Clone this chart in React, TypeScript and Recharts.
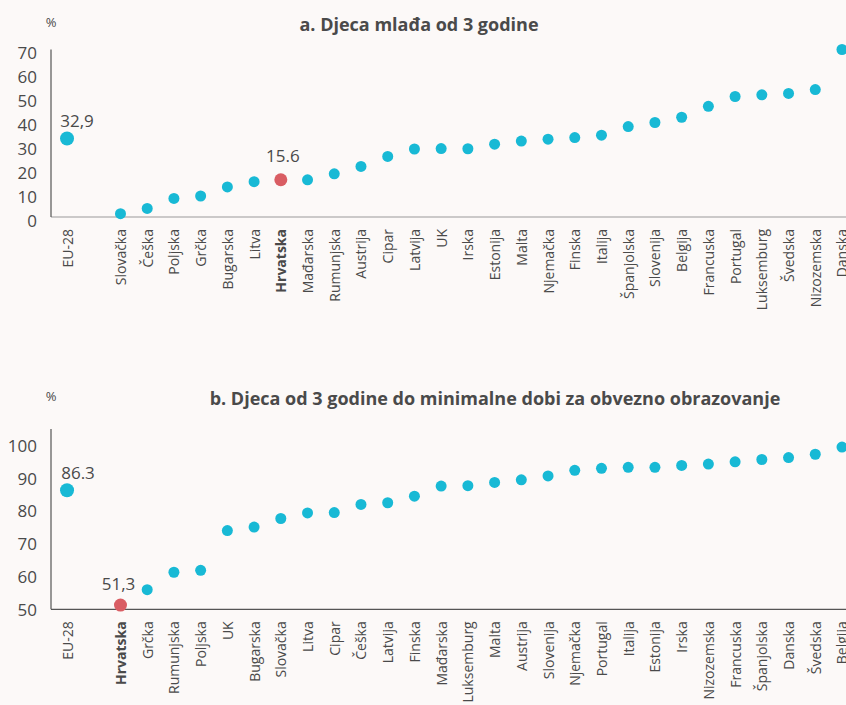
import React from 'react';
import { ScatterChart, Scatter, XAxis, YAxis, LabelList } from 'recharts';

// a. Djeca mlađa od 3 godine (empty slot after EU-28)
const namesA = ['EU-28', '', 'Slovačka', 'Češka', 'Poljska', 'Grčka', 'Bugarska', 'Litva', 'Hrvatska', 'Mađarska', 'Rumunjska', 'Austrija', 'Cipar', 'Latvija', 'UK', 'Irska', 'Estonija', 'Malta', 'Njemačka', 'Finska', 'Italija', 'Španjolska', 'Slovenija', 'Belgija', 'Francuska', 'Portugal', 'Luksemburg', 'Švedska', 'Nizozemska', 'Danska'];
const valuesA = [32.9, null, 1.4, 3.6, 7.8, 8.8, 12.6, 14.8, 15.6, 15.6, 18.1, 21.2, 25.4, 28.5, 28.7, 28.6, 30.5, 31.8, 32.6, 33.3, 34.3, 37.9, 39.6, 41.8, 46.4, 50.5, 51.2, 51.8, 53.4, 70.2];
const ticksA = [0, 10, 20, 30, 40, 50, 60, 70];
const euLabelA = '32,9';
const hrLabelA = '15.6';

// b. Djeca od 3 godine do minimalne dobi za obvezno obrazovanje
const namesB = ['EU-28', '', 'Hrvatska', 'Grčka', 'Rumunjska', 'Poljska', 'UK', 'Bugarska', 'Slovačka', 'Litva', 'Cipar', 'Češka', 'Latvija', 'Finska', 'Mađarska', 'Luksemburg', 'Malta', 'Austrija', 'Slovenija', 'Njemačka', 'Portugal', 'Italija', 'Estonija', 'Irska', 'Nizozemska', 'Francuska', 'Španjolska', 'Danska', 'Švedska', 'Belgija'];
const valuesB = [86.3, null, 51.3, 56.0, 61.3, 61.9, 74.0, 75.1, 77.7, 79.4, 79.5, 82.0, 82.5, 84.5, 87.6, 87.7, 88.7, 89.5, 90.7, 92.4, 93.0, 93.3, 93.3, 93.9, 94.3, 95.0, 95.7, 96.3, 97.3, 99.5];
const ticksB = [50, 60, 70, 80, 90, 100];
const euLabelB = '86.3';
const hrLabelB = '51,3';

const CYAN = '#18b9d5';
const RED = '#d95d63';
const TEXT = '#4a4a4a';
const FONT = '"Open Sans", sans-serif';

function split(names: string[], values: (number | null)[]) {
  const rows = names
    .map((name, i) => ({ x: i, name, value: values[i] }))
    .filter(r => r.value !== null);
  return {
    eu: rows.filter(r => r.name === 'EU-28'),
    hr: rows.filter(r => r.name === 'Hrvatska'),
    rest: rows.filter(r => r.name !== 'EU-28' && r.name !== 'Hrvatska'),
  };
}

const dot = (r: number, fill: string) => (p: any) => <circle cx={p.cx} cy={p.cy} r={r} fill={fill} />;

const makeTick = (names: string[]) => (p: any) => {
  const name = names[p.payload.value];
  return (
    <g transform={`translate(${p.x},${p.y + 12}) rotate(-90)`}>
      <text
        x={0}
        y={0}
        textAnchor="end"
        dominantBaseline="central"
        fontFamily={FONT}
        fontSize={14}
        fontWeight={name === 'Hrvatska' ? 700 : 400}
        fill={TEXT}
      >
        {name}
      </text>
    </g>
  );
};

const makeYTick = (dy: number) => (p: any) => (
  <text x={p.x} y={p.y + dy} textAnchor="end" dominantBaseline="central" fontFamily={FONT} fontSize={17} fill={TEXT}>
    {p.payload.value}
  </text>
);

const makeLabel = (text: string, dx: number, up: number) => (p: any) => {
  const cx = p.x + p.width / 2;
  const cy = p.y + p.height / 2;
  return (
    <text x={cx + dx} y={cy - up} textAnchor="middle" dominantBaseline="central" fontFamily={FONT} fontSize={17} fill={TEXT}>
      {text}
    </text>
  );
};

interface PanelProps {
  names: string[];
  values: (number | null)[];
  ticks: number[];
  domain: [number, number];
  height: number;
  top: number;
  xAxisHeight: number;
  euLabel: string;
  hrLabel: string;
  euShift: [number, number];
  hrShift: [number, number];
  xAxisColor: string;
  yTickDy: number;
}

function Panel(props: PanelProps) {
  const { eu, hr, rest } = split(props.names, props.values);
  const xTicks = props.names.map((n, i) => (n ? i : -1)).filter(i => i >= 0);
  return (
    <ScatterChart width={846} height={props.height} margin={{ top: props.top, right: 0, left: 0, bottom: 0 }}>
      <XAxis
        type="number"
        dataKey="x"
        domain={[-0.6, 29.15]}
        ticks={xTicks}
        interval={0}
        tickLine={false}
        tickSize={0}
        tickMargin={0}
        height={props.xAxisHeight}
        axisLine={{ stroke: props.xAxisColor, strokeWidth: 1.2 }}
        tick={makeTick(props.names)}
        allowDataOverflow
      />
      <YAxis
        type="number"
        dataKey="value"
        domain={props.domain}
        ticks={props.ticks}
        interval={0}
        width={51}
        tickLine={false}
        tickSize={0}
        tickMargin={14}
        axisLine={{ stroke: '#555', strokeWidth: 1.2 }}
        tick={makeYTick(props.yTickDy)}
      />
      <Scatter data={rest} shape={dot(5.5, CYAN)} isAnimationActive={false} />
      <Scatter data={eu} shape={dot(7, CYAN)} isAnimationActive={false}>
        <LabelList dataKey="value" content={makeLabel(props.euLabel, props.euShift[0], props.euShift[1])} />
      </Scatter>
      <Scatter data={hr} shape={dot(6.5, RED)} isAnimationActive={false}>
        <LabelList dataKey="value" content={makeLabel(props.hrLabel, props.hrShift[0], props.hrShift[1])} />
      </Scatter>
    </ScatterChart>
  );
}

export default function App() {
  return (
    <div style={{ position: 'absolute', left: 0, top: 0, width: 846, height: 705, background: '#fcf9f8', overflow: 'hidden' }}>
      <div style={{ position: 'absolute', left: 0, top: 0 }}>
        <Panel
          names={namesA}
          values={valuesA}
          ticks={ticksA}
          domain={[0, 70]}
          height={340}
          top={49.5}
          xAxisHeight={123}
          euLabel={euLabelA}
          hrLabel={hrLabelA}
          euShift={[10, 18]}
          hrShift={[2, 24]}
          xAxisColor="#999"
          yTickDy={3}
        />
      </div>
      <div style={{ position: 'absolute', left: 0, top: 350 }}>
        <Panel
          names={namesB}
          values={valuesB}
          ticks={ticksB}
          domain={[50, 105]}
          height={355}
          top={79}
          xAxisHeight={95.7}
          euLabel={euLabelB}
          hrLabel={hrLabelB}
          euShift={[11, 18]}
          hrShift={[-2, 22]}
          xAxisColor="#555"
          yTickDy={0}
        />
      </div>
      <svg width={846} height={705} style={{ position: 'absolute', left: 0, top: 0, pointerEvents: 'none' }}>
        <text x={51} y={27} textAnchor="middle" fontFamily={FONT} fontSize={13} fill={TEXT}>%</text>
        <text x={419} y={31} textAnchor="middle" fontFamily={FONT} fontSize={18} fontWeight={700} fill={TEXT}>
          a. Djeca mlađa od 3 godine
        </text>
        <text x={51} y={401} textAnchor="middle" fontFamily={FONT} fontSize={13} fill={TEXT}>%</text>
        <text x={495} y={405} textAnchor="middle" fontFamily={FONT} fontSize={18} fontWeight={700} fill={TEXT}>
          b. Djeca od 3 godine do minimalne dobi za obvezno obrazovanje
        </text>
      </svg>
    </div>
  );
}
